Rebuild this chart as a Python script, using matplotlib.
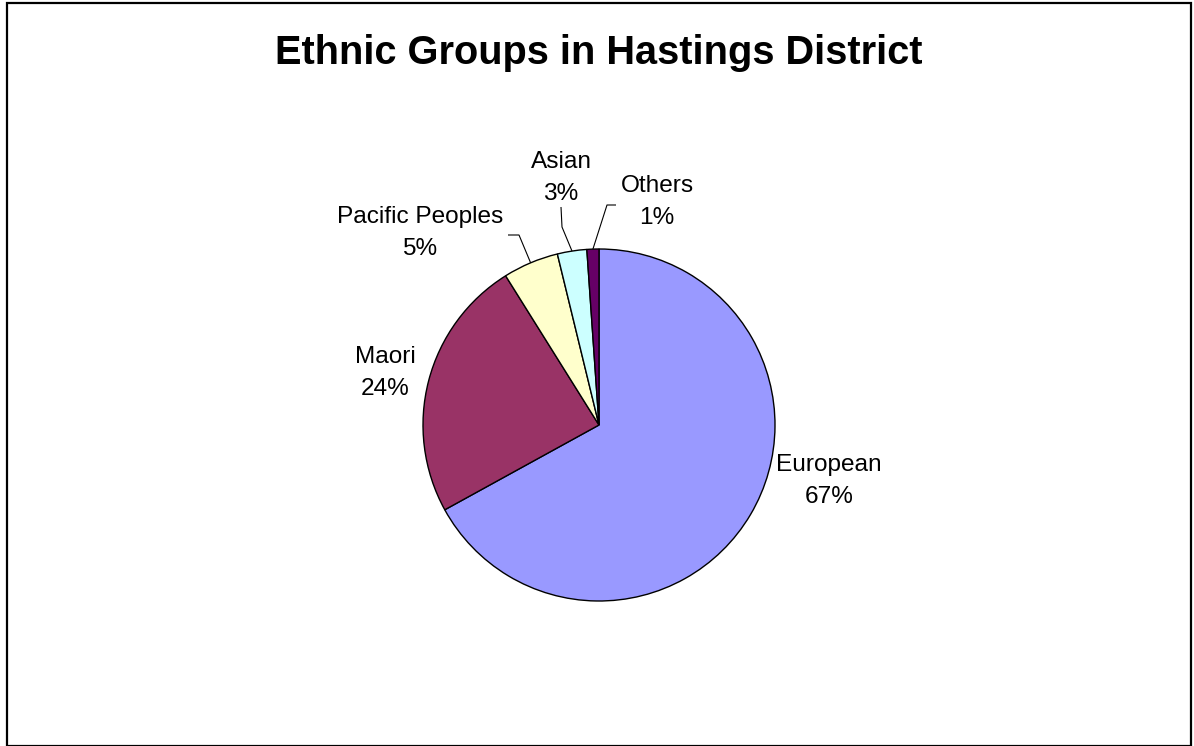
import matplotlib
matplotlib.use("Agg")
import matplotlib.pyplot as plt
from matplotlib.patches import Rectangle
import numpy as np

# Data
categories = ["European", "Maori", "Pacific Peoples", "Asian", "Others"]
values = [67.0, 24.1, 5.1, 2.7, 1.1]
pct_labels = ["67%", "24%", "5%", "3%", "1%"]
colors = ["#9999FF", "#993366", "#FFFFCC", "#CCFFFF", "#660066"]
title = "Ethnic Groups in Hastings District"

W, H = 1194, 746
fig = plt.figure(figsize=(W / 100, H / 100), dpi=100)
ax = fig.add_axes([0, 0, 1, 1])
ax.set_xlim(0, W)
ax.set_ylim(0, H)
ax.set_aspect("equal")
ax.axis("off")

def Y(y):
    return H - y

cx, cy, r = 599, 425, 176
wedges, _ = ax.pie(values, colors=colors, startangle=90, counterclock=False,
                   center=(cx, Y(cy)), radius=r, frame=True,
                   wedgeprops=dict(edgecolor="black", linewidth=1.0))
ax.set_xlim(0, W)
ax.set_ylim(0, H)
ax.axis("off")

font = "Liberation Sans"
# label positions (pixel coordinates, centre of text block)
label_pos = {
    "European": (829, 481),
    "Maori": (385, 373),
    "Pacific Peoples": (420, 233),
    "Asian": (561, 178),
    "Others": (657, 202),
}
for cat, pct in zip(categories, pct_labels):
    x, y = label_pos[cat]
    ax.text(x, Y(y), f"{cat}\n{pct}", ha="center", va="center",
            fontsize=17.6, family=font, linespacing=1.62, color="black")

# leader lines: (bend point, end point) in pixels
leaders = {
    "Pacific Peoples": [(519, 235), (508, 235)],
    "Asian": [(562, 227), (561, 207)],
    "Others": [(607, 205), (616, 205)],
}
for w, cat in zip(wedges, categories):
    if cat in leaders:
        mid = np.deg2rad((w.theta1 + w.theta2) / 2)
        sx = cx + r * np.cos(mid)
        sy = Y(cy) + r * np.sin(mid)
        pts = [(sx, sy)] + [(px, Y(py)) for px, py in leaders[cat]]
        xs, ys = zip(*pts)
        ax.plot(xs, ys, color="black", linewidth=0.8, solid_capstyle="butt")

ax.text(599, Y(53), title, ha="center", va="center", fontsize=28.6,
        fontweight="bold", family=font)

# outer frame
fig.patches.append(Rectangle((6.5 / W, 0.5 / H), 1184 / W, (H - 3.5) / H,
                             transform=fig.transFigure, fill=False,
                             edgecolor="black", linewidth=1.6))

fig.savefig("out.png", dpi=100, facecolor="white")
